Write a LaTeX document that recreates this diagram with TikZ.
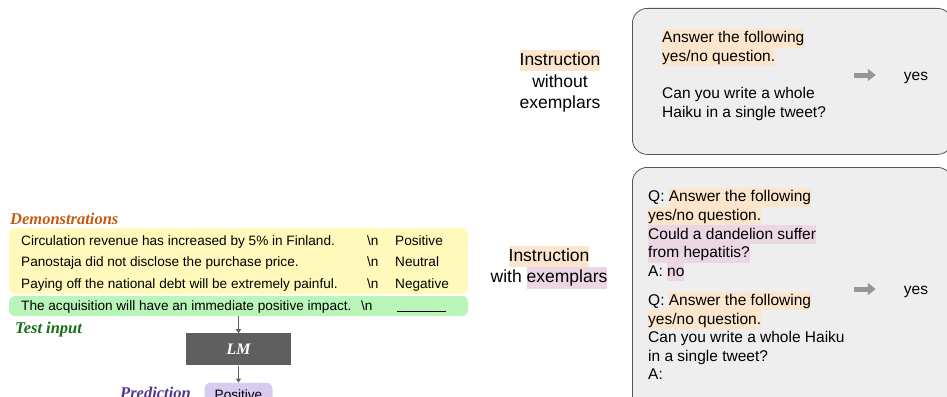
\documentclass[tikz,border=0pt]{standalone}
\usepackage{fontspec}
\setmainfont{Liberation Sans}
\newfontfamily\tagfont{Liberation Serif}
\usetikzlibrary{arrows.meta,positioning}

\definecolor{demoorange}{RGB}{197,90,17}
\definecolor{testgreen}{RGB}{22,110,22}
\definecolor{predpurple}{RGB}{82,52,140}
\definecolor{demofill}{RGB}{255,250,187}
\definecolor{testfill}{RGB}{185,245,185}
\definecolor{predfill}{RGB}{216,202,240}
\definecolor{lmgray}{RGB}{95,95,95}
\definecolor{flowgray}{RGB}{95,95,95}
\definecolor{boxbg}{RGB}{238,238,238}
\definecolor{boxline}{RGB}{85,85,85}
\definecolor{arrowgray}{RGB}{150,150,150}
\definecolor{insbg}{RGB}{252,229,205}
\definecolor{exbg}{RGB}{235,214,228}

% highlighted words
\newcommand{\hlins}[1]{{\setlength{\fboxsep}{0pt}\colorbox{insbg}{\rule[-.26\baselineskip]{0pt}{\baselineskip}#1}}}
\newcommand{\hlex}[1]{{\setlength{\fboxsep}{0pt}\colorbox{exbg}{\rule[-.26\baselineskip]{0pt}{\baselineskip}#1}}}

\begin{document}
\begin{tikzpicture}[x=1pt,y=-1pt]
\tikzstyle{row} = [anchor=base west, inner sep=0pt, font=\fontsize{13.6}{16}\selectfont]
\tikzstyle{tag} = [anchor=base west, inner sep=0pt, font=\tagfont\bfseries\itshape\fontsize{16.5}{18}\selectfont]
\tikzstyle{band} = [rounded corners=6pt, minimum width=459pt, inner sep=0pt]
\tikzstyle{smallarrow} = [draw=flowgray, line width=1pt, -{Triangle[length=4pt,width=5pt]}]
\tikzstyle{qbox} = [draw=boxline, fill=boxbg, rounded corners=15pt, line width=0.8pt, anchor=north west, minimum width=320pt]
\tikzstyle{qtext} = [anchor=north west, inner sep=0pt, align=left, font=\fontsize{15.5}{18.6}\selectfont]
\tikzstyle{side} = [align=center, inner sep=0pt, font=\fontsize{17.5}{21.5}\selectfont]
\tikzstyle{bigarrow} = [draw=arrowgray, line width=5pt, -{Triangle[length=8pt,width=12pt]}]

\useasboundingbox (0,0) rectangle (947,396);
\clip (0,0) rectangle (947,396);

% in-context learning
\node[tag, text=demoorange] (demo) at (10,224) {Demonstrations};
\node[band, fill=demofill, minimum height=66pt] (demobox) at (238.5,261) {};
\node[band, fill=testfill, minimum height=20pt] (test) at (238.5,306) {};

\foreach \y/\s/\l [count=\i] in {245/Circulation revenue has increased by 5\% in Finland./Positive,
  266/Panostaja did not disclose the purchase price./Neutral,
  288/Paying off the national debt will be extremely painful./Negative}{
  \node[row] (sent\i) at (21,\y) {\s};
  \node[row] (nl\i) at (367,\y) {\textbackslash n};
  \node[row] (lab\i) at (395,\y) {\l};
}
\node[row] (sent4) at (21,310) {The acquisition will have an immediate positive impact.};
\node[row] (nl4) at (361,310) {\textbackslash n};
\node[row] (blank) at (397,310) {\rule[-1.5pt]{49pt}{0.8pt}};

\node[tag, text=testgreen] (testtag) at (15,333) {Test input};
\node[fill=lmgray, minimum width=105pt, minimum height=32pt, inner sep=0pt, text=white,
  font=\tagfont\bfseries\itshape\fontsize{16}{18}\selectfont, below=17pt of test] (lm) {LM};
\node[fill=predfill, rounded corners=6pt, minimum width=68pt, minimum height=24pt, inner sep=0pt,
  font=\fontsize{13.6}{16}\selectfont, below=17pt of lm] (pred) {Positive};
\node[tag, text=predpurple] (predtag) at (120,398) {Prediction};

\draw[smallarrow] (test) -- (lm);
\draw[smallarrow] (lm) -- (pred);

% instructions
\node[side] (ins1) at (560,81) {\hlins{Instruction}\\without\\exemplars};
\node[qbox, minimum height=146pt] (nobox) at (632,8) {};
\node[qtext] (notext) at (662,29) {\hlins{Answer the following}\\
  \hlins{yes/no question.}\\[18.6pt]
  Can you write a whole\\
  Haiku in a single tweet?};
\node[anchor=base, inner sep=0pt, font=\fontsize{15.5}{18.6}\selectfont] (yes1) at (916,80) {yes};
\coordinate (a1) at (854,75);
\draw[bigarrow] (a1) -- (a1 -| yes1.west) [shorten >=28pt];

\node[side] (ins2) at (549,267) {\hlins{Instruction}\\with \hlex{exemplars}};
\node[qbox, minimum height=250pt] (exbox) at (632,167) {};
\node[qtext] (extext) at (648,188) {Q: \hlins{Answer the following}\\
  \hlins{yes/no question.}\\
  \hlex{Could a dandelion suffer}\\
  \hlex{from hepatitis?}\\
  A: \hlex{no}\\[10.5pt]
  Q: \hlins{Answer the following}\\
  \hlins{yes/no question.}\\
  Can you write a whole Haiku\\
  in a single tweet?\\
  A:};
\node[anchor=base, inner sep=0pt, font=\fontsize{15.5}{18.6}\selectfont] (yes2) at (916,294) {yes};
\coordinate (a2) at (854,289);
\draw[bigarrow] (a2) -- (a2 -| yes2.west) [shorten >=28pt];

\end{tikzpicture}
\end{document}
